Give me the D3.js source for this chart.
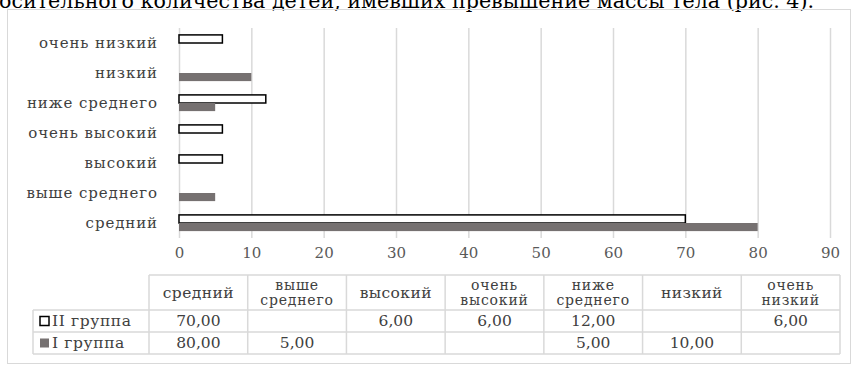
<!DOCTYPE html>
<html>
<head>
<meta charset="utf-8">
<script src="https://cdn.jsdelivr.net/npm/d3@7"></script>
<style>
	body { margin: 0; background: #fff; }
	svg { display: block; }
	svg text { font-family: 'DejaVu Serif', 'Liberation Serif', 'Times New Roman', 'Noto Serif', serif; }
</style>
</head>
<body>
<svg id="chart" width="856" height="367"></svg>
<script>
const categories = ['средний', 'выше среднего', 'высокий', 'очень высокий', 'ниже среднего', 'низкий', 'очень низкий']
const headerLines = [['средний'], ['выше', 'среднего'], ['высокий'], ['очень', 'высокий'], ['ниже', 'среднего'], ['низкий'], ['очень', 'низкий']]
const seriesNames = ['II группа', 'I группа']
const group2 = [70, null, 6, 6, 12, null, 6]
const group1 = [80, 5, null, null, 5, 10, null]
const xTicks = [0, 10, 20, 30, 40, 50, 60, 70, 80, 90]

const colors = ['#ffffff', '#767171']
const strokes = ['#000000', 'none']
const textColor = '#595959'
const gridColor = '#d9d9d9'
const plot = { left: 179, right: 830, top: 28, bottom: 238 }
const table = { left: 33, firstCol: 149, right: 840, rows: [275, 310, 332, 354] }

const svg = d3.select('#chart')

// cut-off line of the body text above the figure
svg.append('text')
	.attr('x', -1).attr('y', 8)
	.attr('textLength', 815).attr('lengthAdjust', 'spacingAndGlyphs')
	.style('font-size', '20px').style('fill', '#000')
	.text('осительного количества детей, имевших превышение массы тела (рис. 4).')

svg.append('rect')
	.attr('x', 7.5).attr('y', 9.5).attr('width', 843).attr('height', 354)
	.style('fill', 'none').style('stroke', gridColor)

const xScale = d3.scaleLinear().domain([0, 90]).range([plot.left, plot.right])
const yScale = d3.scaleBand().domain(categories.slice().reverse())
	.range([plot.top, plot.bottom]).paddingInner(0.46).paddingOuter(0.23)
const subScale = d3.scaleBand().domain(seriesNames).range([0, yScale.bandwidth()])

const xAxis = svg.append('g')
	.attr('transform', `translate(0, ${plot.bottom})`)
	.call(d3.axisBottom(xScale).tickValues(xTicks).tickSize(-(plot.bottom - plot.top)).tickPadding(9))
xAxis.attr('font-family', null)
xAxis.select('.domain').remove()
xAxis.selectAll('line').style('stroke', gridColor).style('stroke-width', 1.5)
xAxis.selectAll('text').style('font-size', '15px').style('fill', textColor)

const yAxis = svg.append('g')
	.attr('transform', `translate(${plot.left - 21}, 0)`)
	.call(d3.axisLeft(yScale).tickSize(0).tickPadding(0))
yAxis.attr('font-family', null)
yAxis.select('.domain').remove()
yAxis.selectAll('text').style('font-size', '15px').style('fill', '#404040')
	.style('letter-spacing', '0.9px')

const sets = [group2, group1]
sets.forEach((set, i) => {
	const rows = categories.map((c, j) => ({ cat: c, value: set[j] })).filter(d => d.value != null)
	svg.append('g').selectAll('rect').data(rows)
		.enter().append('rect')
		.attr('x', xScale(0))
		.attr('y', d => yScale(d.cat) + subScale(seriesNames[i]))
		.attr('width', d => xScale(d.value) - xScale(0))
		.attr('height', subScale.bandwidth())
		.style('fill', colors[i])
		.style('stroke', strokes[i]).style('stroke-width', 1.5)
})

// data table under the chart
const colScale = d3.scaleBand().domain(categories).range([table.firstCol, table.right])
const r = table.rows
const tg = svg.append('g').style('font-size', '15.5px').style('fill', '#404040')

const line = (x1, y1, x2, y2) => tg.append('line')
	.attr('x1', x1).attr('y1', y1).attr('x2', x2).attr('y2', y2)
	.style('stroke', gridColor).style('stroke-width', 1.5)

line(table.firstCol, r[0], table.right, r[0])
r.slice(1).forEach(y => line(table.left, y, table.right, y))
line(table.left, r[1], table.left, r[3])
categories.forEach(c => line(colScale(c), r[0], colScale(c), r[3]))
line(table.right, r[0], table.right, r[3])

categories.forEach((c, j) => {
	const cx = colScale(c) + colScale.bandwidth() / 2
	const lines = headerLines[j]
	const mid = (r[0] + r[1]) / 2
	lines.forEach((t, k) => {
		tg.append('text').attr('x', cx)
			.attr('y', mid + (k - (lines.length - 1) / 2) * 15)
			.attr('dy', '0.35em').attr('text-anchor', 'middle')
			.style('font-size', lines.length > 1 ? '14px' : '15.5px')
			.style('letter-spacing', lines.length > 1 ? '0.8px' : '0.4px')
			.text(t)
	})
	sets.forEach((set, i) => {
		if (set[j] == null) return
		tg.append('text').attr('x', cx).attr('y', (r[i + 1] + r[i + 2]) / 2)
			.attr('dy', '0.35em').attr('text-anchor', 'middle')
			.text(d3.format('.2f')(set[j]).replace('.', ','))
	})
})

seriesNames.forEach((name, i) => {
	const cy = (r[i + 1] + r[i + 2]) / 2
	tg.append('rect').attr('x', 40).attr('y', cy - 4.5).attr('width', 9).attr('height', 9)
		.style('fill', colors[i]).style('stroke', strokes[i]).style('stroke-width', 1.5)
	tg.append('text').attr('x', 52).attr('y', cy).attr('dy', '0.35em')
		.style('fill', '#404040').style('letter-spacing', '0.6px').text(name)
})
</script>
</body>
</html>
